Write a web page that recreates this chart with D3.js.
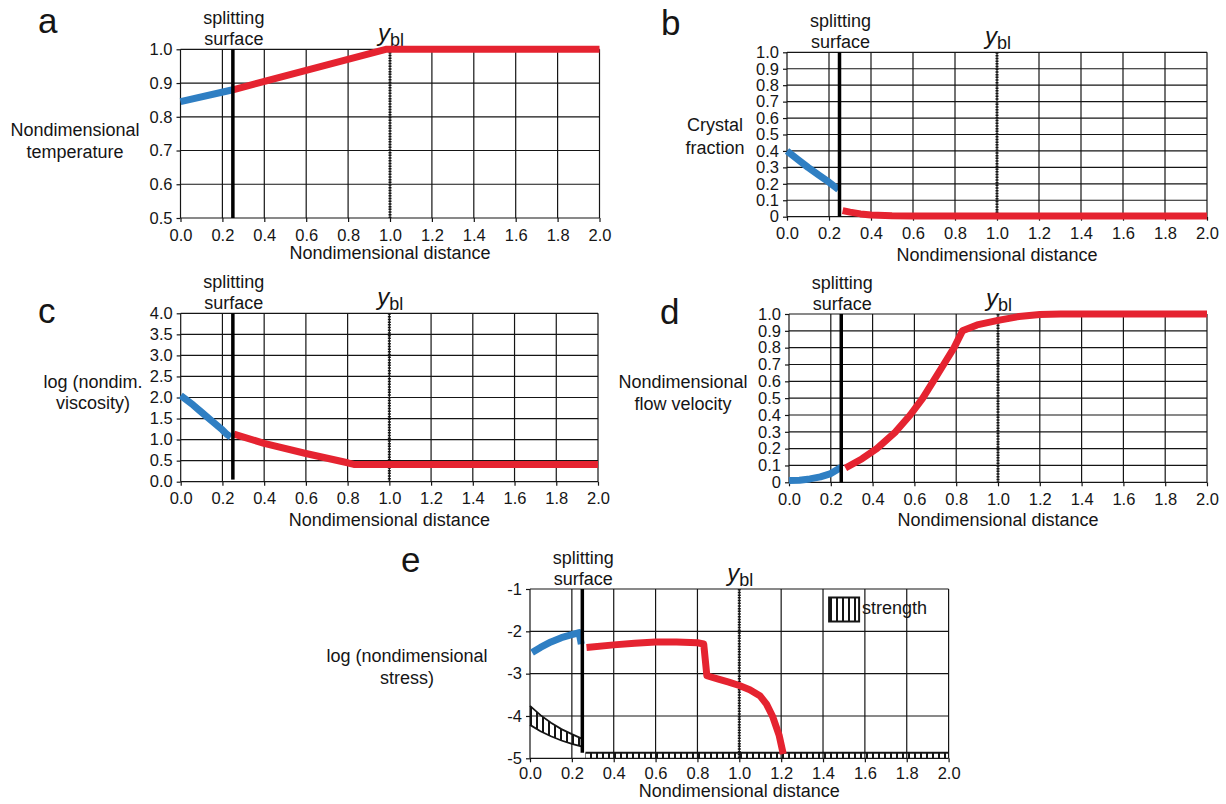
<!DOCTYPE html>
<html>
<head>
<meta charset="utf-8">
<script src="https://cdn.jsdelivr.net/npm/d3@7"></script>
<style>
  html, body { margin: 0; padding: 0; background: #fff; }
  svg { display: block; font-family: "Liberation Sans", Arial, sans-serif; }
</style>
</head>
<body>
<svg id="chart" width="1226" height="804"></svg>
<script>
// Five stacked profiles across the splitting surface and boundary layer.
// Values.

const xTickValues = [0, 0.2, 0.4, 0.6, 0.8, 1.0, 1.2, 1.4, 1.6, 1.8, 2.0];
const xTickLabels = ["0.0", "0.2", "0.4", "0.6", "0.8", "1.0", "1.2", "1.4", "1.6", "1.8", "2.0"];
const splitAt = 0.25;
const yblAt = 1.0;

// a: temperature
const tempTicks = [0.5, 0.6, 0.7, 0.8, 0.9, 1.0];
const tempLabels = ["0.5", "0.6", "0.7", "0.8", "0.9", "1.0"];
const tempBlue = [[0, 0.845], [0.25, 0.88]];
const tempRed = [[0.25, 0.88], [0.98, 1.0], [2.0, 1.0]];

// b: crystal fraction
const crystTicks = [0, 0.1, 0.2, 0.3, 0.4, 0.5, 0.6, 0.7, 0.8, 0.9, 1.0];
const crystLabels = ["0", "0.1", "0.2", "0.3", "0.4", "0.5", "0.6", "0.7", "0.8", "0.9", "1.0"];
const crystBlue = [[0, 0.40], [0.05, 0.35], [0.1, 0.30], [0.15, 0.255], [0.2, 0.21], [0.245, 0.165]];
const crystRed = [[0.265, 0.037], [0.3, 0.028], [0.35, 0.017], [0.4, 0.01], [0.5, 0.006], [0.6, 0.005], [2.0, 0.005]];

// c: log viscosity
const viscTicks = [0, 0.5, 1.0, 1.5, 2.0, 2.5, 3.0, 3.5, 4.0];
const viscLabels = ["0.0", "0.5", "1.0", "1.5", "2.0", "2.5", "3.0", "3.5", "4.0"];
const viscBlue = [[0, 2.05], [0.06, 1.82], [0.1, 1.65], [0.15, 1.44], [0.2, 1.23], [0.22, 1.13], [0.24, 1.06]];
const viscRed = [[0.255, 1.13], [0.4, 0.91], [0.6, 0.67], [0.8, 0.45], [0.83, 0.41], [2.0, 0.41]];

// d: flow velocity
const veloTicks = crystTicks;
const veloLabels = crystLabels;
const veloBlue = [[0, 0.01], [0.05, 0.012], [0.1, 0.02], [0.15, 0.032], [0.2, 0.052], [0.25, 0.09]];
const veloRed = [[0.27, 0.085], [0.35, 0.14], [0.42, 0.2], [0.51, 0.3], [0.58, 0.4], [0.64, 0.5],
  [0.69, 0.6], [0.74, 0.7], [0.79, 0.8], [0.83, 0.9], [0.9, 0.935], [1.0, 0.962], [1.1, 0.985],
  [1.2, 0.997], [1.3, 1.0], [2.0, 1.0]];

// e: log stress and strength band
const stressTicks = [-5, -4, -3, -2, -1];
const stressLabels = ["-5", "-4", "-3", "-2", "-1"];
const stressBlue = [[0.01, -2.5], [0.05, -2.38], [0.1, -2.25], [0.15, -2.15], [0.2, -2.08], [0.235, -2.03], [0.245, -2.3]];
const stressRed = [[0.27, -2.38], [0.4, -2.32], [0.5, -2.28], [0.6, -2.25], [0.7, -2.25], [0.8, -2.27],
  [0.83, -2.3], [0.845, -3.05], [0.9, -3.13], [0.95, -3.2], [1.0, -3.28], [1.05, -3.38], [1.1, -3.53],
  [1.13, -3.72], [1.16, -4.02], [1.19, -4.45], [1.21, -4.9]];
const strengthX = [0, 0.05, 0.1, 0.15, 0.2, 0.245];
const strengthUpper = [-3.76, -3.98, -4.16, -4.31, -4.43, -4.53];
const strengthLower = [-4.21, -4.36, -4.48, -4.58, -4.66, -4.72];
const strengthFarX = [0.265, 2.0];
const strengthFarUpper = [-4.87, -4.87];
const strengthFarLower = [-5, -5];

const RED = "#e52330";
const BLUE = "#2f7fc3";
const INK = "#151515";

const svg = d3.select("#chart");

const defs = svg.append("defs");
defs.append("pattern")
  .attr("id", "hatch")
  .attr("patternUnits", "userSpaceOnUse")
  .attr("width", 6)
  .attr("height", 10)
  .append("path")
  .attr("d", "M3,0V10")
  .attr("stroke", INK)
  .attr("stroke-width", 2);

const panels = [
  {
    letter: "a", letterX: 38, letterY: 33,
    left: 180.5, right: 599.5, top: 49.3, bottom: 218,
    yDomain: [0.5, 1.0], yTicks: tempTicks, yLabels: tempLabels,
    title: ["Nondimensional", "temperature"], titleX: 75, titleY: [136, 158],
    blue: tempBlue, red: tempRed, splitEnd: 0.5, xTitleGap: 41,
  },
  {
    letter: "b", letterX: 661, letterY: 35,
    left: 787, right: 1207, top: 52.3, bottom: 216.7,
    yDomain: [0, 1], yTicks: crystTicks, yLabels: crystLabels,
    title: ["Crystal", "fraction"], titleX: 715, titleY: [131, 154],
    blue: crystBlue, red: crystRed, splitEnd: 0, xTitleGap: 44,
  },
  {
    letter: "c", letterX: 38, letterY: 323,
    left: 180.7, right: 598, top: 313.3, bottom: 481.7,
    yDomain: [0, 4], yTicks: viscTicks, yLabels: viscLabels,
    title: ["log (nondim.", "viscosity)"], titleX: 93, titleY: [388, 409],
    blue: viscBlue, red: viscRed, splitEnd: 0.05, xTitleGap: 44,
  },
  {
    letter: "d", letterX: 660, letterY: 324,
    left: 789, right: 1207, top: 314, bottom: 482.3,
    yDomain: [0, 1], yTicks: veloTicks, yLabels: veloLabels,
    title: ["Nondimensional", "flow velocity"], titleX: 683, titleY: [388, 410],
    blue: veloBlue, red: veloRed, splitEnd: 0, xTitleGap: 44,
  },
  {
    letter: "e", letterX: 401, letterY: 572,
    left: 530, right: 948.6, top: 589, bottom: 758.3,
    yDomain: [-5, -1], yTicks: stressTicks, yLabels: stressLabels,
    title: ["log (nondimensional", "stress)"], titleX: 407, titleY: [662, 684],
    blue: stressBlue, red: stressRed, splitEnd: -4.87, xTitleGap: 39, strength: true,
  },
];

function draw_panel(p) {
  const x = d3.scaleLinear().domain([0, 2]).range([p.left, p.right]);
  const y = d3.scaleLinear().domain(p.yDomain).range([p.bottom, p.top]);
  const g = svg.append("g");

  // grid + frame
  g.append("g").selectAll("line").data(xTickValues).join("line")
    .attr("x1", (d) => x(d)).attr("x2", (d) => x(d))
    .attr("y1", p.top).attr("y2", p.bottom)
    .attr("stroke", INK).attr("stroke-width", 1.2);
  g.append("g").selectAll("line").data(p.yTicks).join("line")
    .attr("x1", p.left).attr("x2", p.right)
    .attr("y1", (d) => y(d)).attr("y2", (d) => y(d))
    .attr("stroke", INK).attr("stroke-width", 1.2);

  const xAxis = g.append("g")
    .attr("transform", `translate(0,${p.bottom})`)
    .call(d3.axisBottom(x).tickValues(xTickValues)
      .tickFormat((d, i) => xTickLabels[i]).tickSize(4).tickPadding(p.strength ? 5 : 7));
  const yAxis = g.append("g")
    .attr("transform", `translate(${p.left},0)`)
    .call(d3.axisLeft(y).tickValues(p.yTicks)
      .tickFormat((d, i) => p.yLabels[i]).tickSize(4).tickPadding(4));
  [xAxis, yAxis].forEach((axis) => {
    axis.select(".domain").remove();
    axis.attr("font-family", null).attr("font-size", null);
    axis.selectAll("line").attr("stroke", INK).attr("stroke-width", 1.2);
    axis.selectAll("text").attr("fill", INK).attr("font-size", 16.5);
  });

  // axis titles
  g.append("text")
    .attr("x", (p.left + p.right) / 2)
    .attr("y", p.bottom + p.xTitleGap)
    .attr("text-anchor", "middle")
    .attr("font-size", 18).attr("fill", INK)
    .text("Nondimensional distance");
  g.append("g").selectAll("text").data(p.title).join("text")
    .attr("x", p.titleX)
    .attr("y", (d, i) => p.titleY[i])
    .attr("text-anchor", "middle")
    .attr("font-size", 18).attr("fill", INK)
    .text((d) => d);
  g.append("text")
    .attr("x", p.letterX).attr("y", p.letterY)
    .attr("font-size", 35).attr("fill", INK)
    .text(p.letter);

  // strength band (panel e)
  if (p.strength) {
    const near = strengthX.map((v, i) => [v, strengthUpper[i], strengthLower[i]]);
    const far = strengthFarX.map((v, i) => [v, strengthFarUpper[i], strengthFarLower[i]]);
    const area = d3.area().x((d) => x(d[0])).y0((d) => y(d[2])).y1((d) => y(d[1]));
    const edge = (k) => d3.line().x((d) => x(d[0])).y((d) => y(d[k]));
    g.append("path").attr("d", area(near)).attr("fill", "url(#hatch)");
    g.append("path").attr("d", edge(1)(near)).attr("fill", "none").attr("stroke", INK).attr("stroke-width", 1.8);
    g.append("path").attr("d", edge(2)(near)).attr("fill", "none").attr("stroke", INK).attr("stroke-width", 1.8);
    g.append("path").attr("d", area(far)).attr("fill", "url(#hatch)");
    g.append("path").attr("d", edge(1)(far)).attr("fill", "none").attr("stroke", INK).attr("stroke-width", 2);

    const lx = p.right - 119.5, ly = p.top + 8.5;
    g.append("rect").attr("x", lx).attr("y", ly).attr("width", 30).attr("height", 24)
      .attr("fill", "url(#hatch)").attr("stroke", INK).attr("stroke-width", 2);
    g.append("text").attr("x", lx + 33).attr("y", ly + 16.5)
      .attr("font-size", 18).attr("fill", INK).text("strength");
  }

  // y_bl marker
  g.append("line")
    .attr("x1", x(yblAt)).attr("x2", x(yblAt))
    .attr("y1", p.top).attr("y2", p.bottom)
    .attr("stroke", INK).attr("stroke-width", 3)
    .attr("stroke-dasharray", "1.5 1.2");
  const lbl = g.append("text")
    .attr("x", x(yblAt) - 12).attr("y", p.top - 8)
    .attr("fill", INK);
  lbl.append("tspan").attr("font-style", "italic").attr("font-size", 24).text("y");
  lbl.append("tspan").attr("font-size", 18).attr("dx", 0).attr("dy", 5).text("bl");

  // profiles
  const line = d3.line().x((d) => x(d[0])).y((d) => y(d[1]));
  g.append("path").attr("d", line(p.blue))
    .attr("fill", "none").attr("stroke", BLUE).attr("stroke-width", 7)
    .attr("stroke-linejoin", "round");
  g.append("path").attr("d", line(p.red))
    .attr("fill", "none").attr("stroke", RED).attr("stroke-width", 7)
    .attr("stroke-linejoin", "round");

  // splitting surface
  g.append("line")
    .attr("x1", x(splitAt)).attr("x2", x(splitAt))
    .attr("y1", p.top).attr("y2", y(p.splitEnd))
    .attr("stroke", "#000").attr("stroke-width", 3.5);
  g.append("g").selectAll("text").data(["splitting", "surface"]).join("text")
    .attr("x", x(splitAt) + 1)
    .attr("y", (d, i) => p.top - 25 + i * 21)
    .attr("text-anchor", "middle")
    .attr("font-size", 18).attr("fill", INK)
    .text((d) => d);
}

panels.forEach(draw_panel);
</script>
</body>
</html>
